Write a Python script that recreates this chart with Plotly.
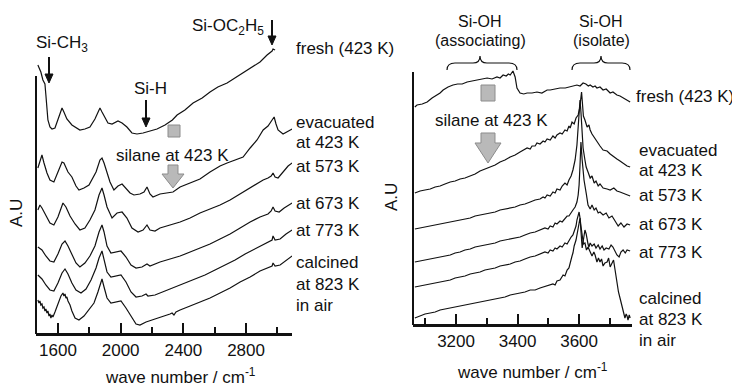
import plotly.graph_objects as go

# ---------------- data: left panel (wavenumber / cm-1, absorbance A.U.) ----------------
left_fresh_wn = [1472,1491,1504,1517,1523,1530,1536,1549,1562,1581,1600,1626,1638,1657,1689,1715,1740,1772,1804,1836,
                 1868,1881,1900,1919,1945,1983,2009,2040,2072,2104,2143,2187,2232,2283,2330,2360,2410,2462,2520,2570,
                 2620,2679,2730,2781,2845,2889,2934,2966,2972,2985]
left_fresh_h = [268,261,253,249,238,226,213,206,204,205,213,225,221,214,208,205,203,204,206,214,
                225,221,215,210,209,212,210,206,200,199,200,202,204,208,213,218,223,230,235,241,
                246,250,255,260,266,271,278,282,284,283]

left_evac_wn = [1472,1485,1498,1511,1530,1549,1574,1600,1626,1638,1664,1689,1715,1734,1766,1798,1823,1843,1868,1881,
                1894,1913,1932,1957,1983,2009,2034,2060,2085,2123,2149,2168,2187,2206,2251,2334,2379,2443,2506,2570,
                2634,2679,2730,2781,2826,2870,2909,2940,2966,2979,2991,3004,3036,3062,3094]
left_evac_h = [165,173,178,170,160,153,151,161,171,170,161,156,147,143,145,148,155,161,173,175,
               170,160,151,143,147,149,145,140,138,139,141,146,139,136,139,141,146,150,154,161,
               167,170,173,176,185,193,203,207,213,216,209,203,199,201,204]

left_573_wn = [1472,1485,1498,1523,1549,1574,1600,1632,1651,1677,1709,1740,1772,1804,1836,1862,1881,1894,1913,1945,
               1977,2009,2040,2072,2111,2143,2168,2187,2219,2251,2315,2379,2443,2506,2570,2634,2698,2762,2826,2870,
               2909,2940,2960,2972,2985,3004,3036,3068,3094]
left_573_h = [123,128,125,117,110,108,116,130,126,117,109,103,105,113,123,138,145,138,126,115,
              120,121,115,105,101,103,108,103,102,105,108,111,115,120,124,128,133,139,145,149,
              153,155,157,160,156,155,161,167,170]

left_673_wn = [1472,1498,1523,1549,1574,1600,1626,1645,1664,1689,1715,1740,1772,1804,1836,1862,1881,1894,1913,1938,
               1970,2002,2034,2066,2098,2136,2168,2187,2251,2315,2379,2443,2506,2570,2634,2698,2762,2826,2889,2940,
               2960,2972,2985,3011,3043,3094]
left_673_h = [86,83,77,72,71,79,89,92,87,78,70,66,70,77,87,101,108,101,87,80,
              81,82,76,68,65,66,69,67,71,74,77,81,85,89,94,99,105,111,116,119,
              122,126,122,121,125,130]

left_773_wn = [1472,1498,1523,1549,1574,1600,1626,1645,1664,1689,1715,1747,1779,1811,1843,1862,1881,1894,1913,1938,
               1970,2002,2034,2066,2098,2136,2162,2174,2219,2283,2347,2411,2475,2538,2602,2666,2730,2794,2858,2909,
               2947,2966,2972,2985,3017,3055,3094]
left_773_h = [58,54,48,43,42,50,60,64,59,50,43,40,44,53,65,75,82,74,61,56,
              57,58,51,41,36,37,39,37,38,42,46,50,54,58,63,68,73,79,84,88,
              91,93,97,93,94,99,103]

left_calc_wn = [1472,1479,1485,1491,1498,1504,1511,1517,1523,1530,1536,1543,1549,1555,1562,1568,1581,1594,1606,1619,
                1632,1638,1645,1651,1657,1664,1677,1689,1709,1734,1766,1798,1830,1855,1881,1894,1913,1938,1970,2002,
                2034,2066,2098,2123,2162,2219,2283,2315,2328,2340,2353,2379,2443,2506,2570,2634,2698,2762,2826,2889,
                2940,2966,2972,2985,3017,3055,3094]
left_calc_h = [33,30,32,28,29,25,26,22,24,20,22,17,19,15,18,16,21,27,33,37,
               40,37,39,35,36,32,28,22,15,13,17,23,30,41,54,46,35,30,31,32,
               25,17,9,8,11,14,17,19,20,18,21,23,27,31,35,40,45,51,56,62,
               65,67,70,67,68,72,77]

# ---------------- data: right panel ----------------
right_fresh_wn = [3066,3073,3090,3106,3122,3138,3148,3158,3174,3190,3205,3220,3236,3252,3268,3285,3301,3317,3333,3343,
                  3353,3363,3370,3376,3380,3385,3392,3398,3408,3420,3431,3447,3463,3479,3496,3506,3522,3538,3555,3571,
                  3583,3593,3603,3613,3622,3630,3636,3645,3652,3658,3668,3678,3688,3701,3710,3723,3733,3743,3752,3766]
right_fresh_h = [217,219,220,222,226,229,231,234,237,239,240,240,242,243,244,245,246,245,247,246,
                 249,248,250,249,251,253,247,236,231,230,231,231,232,231,234,234,235,236,236,237,
                 238,239,238,241,240,238,239,237,238,236,237,234,235,231,232,229,228,226,225,222]

right_evac_wn = [3066,3083,3099,3116,3132,3148,3164,3181,3197,3213,3229,3246,3262,3278,3294,3311,3327,3343,3359,3376,
                 3392,3408,3418,3431,3441,3447,3457,3463,3473,3483,3489,3496,3506,3515,3522,3528,3538,3545,3554,3561,
                 3567,3571,3577,3584,3590,3597,3602,3605,3608,3611,3614,3619,3626,3632,3636,3642,3652,3658,3668,3678,
                 3691,3701,3713,3723,3733,3743,3756,3766]
right_evac_h = [131,133,134,135,137,138,140,142,143,145,146,148,150,153,155,157,159,162,164,167,
                169,172,174,176,175,178,178,181,180,183,182,185,184,188,186,189,191,190,194,193,
                198,196,202,200,206,209,216,229,232,220,208,204,197,199,194,190,185,182,178,174,
                173,170,167,165,163,161,158,157]

right_573_wn = [3066,3083,3099,3116,3132,3148,3164,3181,3197,3213,3229,3246,3262,3278,3294,3311,3327,3343,3359,3376,
                3392,3408,3424,3441,3457,3473,3483,3489,3496,3506,3515,3522,3528,3538,3545,3554,3561,3567,3574,3580,
                3587,3593,3597,3600,3603,3606,3609,3613,3619,3623,3629,3636,3642,3649,3655,3662,3668,3678,3691,3701,
                3713,3723,3733,3743,3756,3766]
right_573_h = [95,96,97,98,99,100,101,102,103,104,105,106,108,109,110,111,112,114,115,116,
               117,119,120,122,124,125,127,126,129,128,132,131,135,134,138,141,139,144,148,154,
               164,179,194,214,224,212,194,176,164,157,152,146,148,141,143,138,140,136,135,134,
               136,133,132,131,129,128]

right_673_wn = [3066,3083,3099,3116,3132,3148,3164,3181,3197,3213,3229,3246,3262,3278,3294,3311,3327,3343,3359,3376,
                3392,3408,3424,3441,3457,3473,3489,3499,3506,3515,3522,3528,3538,3545,3554,3561,3567,3574,3580,3587,
                3593,3597,3600,3603,3606,3610,3616,3623,3629,3636,3642,3649,3655,3662,3668,3678,3688,3697,3707,3717,
                3727,3736,3746,3756,3766]
right_673_h = [62,63,64,65,66,67,68,69,71,72,74,75,77,78,79,80,81,83,84,85,
               86,87,89,91,92,94,96,95,98,97,101,100,103,102,106,108,108,112,114,117,
               122,129,139,159,182,164,144,131,119,115,119,114,116,111,112,109,111,106,108,103,
               98,101,97,100,99]

right_773_wn = [3066,3083,3099,3116,3132,3148,3164,3181,3197,3213,3229,3246,3262,3278,3294,3311,3327,3343,3359,3376,
                3392,3408,3424,3441,3457,3473,3489,3499,3506,3515,3522,3528,3538,3545,3554,3561,3567,3574,3580,3587,
                3590,3593,3597,3600,3603,3606,3610,3613,3616,3619,3623,3626,3629,3632,3636,3642,3649,3655,3662,3668,
                3675,3681,3688,3697,3704,3710,3717,3723,3730,3736,3743,3750,3756,3766]
right_773_h = [37,38,39,40,41,42,43,44,46,47,48,50,51,52,54,55,56,58,59,60,
               62,63,65,67,68,70,72,71,74,73,76,75,78,77,81,80,84,87,89,94,
               98,104,110,112,106,92,76,82,88,94,90,84,80,77,81,78,80,76,79,75,
               78,74,76,75,79,77,72,69,67,72,74,71,74,73]

right_calc_wn = [3066,3083,3099,3116,3132,3148,3164,3181,3197,3213,3229,3246,3262,3278,3294,3311,3327,3343,3359,3376,
                 3392,3408,3424,3441,3457,3473,3483,3496,3506,3515,3522,3528,3538,3548,3554,3561,3567,3571,3577,3580,
                 3584,3590,3597,3600,3603,3606,3610,3614,3619,3624,3629,3635,3642,3648,3652,3658,3663,3668,3673,3678,
                 3684,3691,3696,3701,3707,3712,3717,3723,3728,3733,3740,3746,3749,3753,3756,3759,3763,3766]
right_calc_h = [6,8,10,11,12,14,15,16,17,18,19,20,21,22,23,24,25,26,27,29,
                30,31,32,34,34,36,37,38,39,40,39,43,44,49,48,54,56,62,68,71,
                78,84,96,102,106,98,86,80,81,74,77,72,68,72,69,62,66,62,65,58,
                61,62,66,57,61,64,54,39,32,26,17,11,6,10,8,4,9,6]

left_ticks = [1600, 2000, 2400, 2800]
left_minor = [1800, 2200, 2600, 3000]
right_ticks = [3200, 3400, 3600]
right_minor = [3100, 3300, 3500, 3700]

left_labels = ["fresh (423 K)", "evacuated", "at 423 K", "at 573 K", "at 673 K", "at 773 K", "calcined", "at 823 K", "in air"]
right_labels = left_labels

# ---------------- figure ----------------
# the page body has an 8 px margin, so the figure is 8 px smaller and
# reference pixel positions are shifted by that margin.
OFF = 8
W, H = 740 - OFF, 389 - OFF
FONT = "Liberation Sans, Arial, sans-serif"
INK = "#111111"
FS = 17

def px(x):
    return (x - OFF) / W

def py(y):
    return 1 - (y - OFF) / H

fig = go.Figure()
line_style = dict(color=INK, width=1.2)

left_series = [(left_fresh_wn, left_fresh_h), (left_evac_wn, left_evac_h), (left_573_wn, left_573_h),
               (left_673_wn, left_673_h), (left_773_wn, left_773_h), (left_calc_wn, left_calc_h)]
right_series = [(right_fresh_wn, right_fresh_h), (right_evac_wn, right_evac_h), (right_573_wn, right_573_h),
                (right_673_wn, right_673_h), (right_773_wn, right_773_h), (right_calc_wn, right_calc_h)]

for wn, h in left_series:
    fig.add_trace(go.Scatter(x=wn, y=h, mode="lines", line=line_style, xaxis="x", yaxis="y",
                             hoverinfo="skip", showlegend=False))
for wn, h in right_series:
    fig.add_trace(go.Scatter(x=wn, y=h, mode="lines", line=line_style, xaxis="x2", yaxis="y2",
                             hoverinfo="skip", showlegend=False))

tickfont = dict(family=FONT, size=FS, color=INK)
common_x = dict(showline=True, linecolor=INK, linewidth=2.5, ticks="inside", ticklen=10, tickwidth=2,
                tickcolor=INK, showgrid=False, zeroline=False, tickfont=tickfont, fixedrange=True)

fig.update_layout(
    width=W, height=H, margin=dict(l=0, r=0, t=0, b=0),
    paper_bgcolor="white", plot_bgcolor="rgba(0,0,0,0)",
    xaxis=dict(domain=[px(36), px(292)], range=[1460, 3093], tickvals=left_ticks, anchor="y",
               minor=dict(tickvals=left_minor, ticks="inside", ticklen=6, tickwidth=1.5, tickcolor=INK),
               **common_x),
    yaxis=dict(domain=[py(333), py(40)], range=[0, 293], visible=False, anchor="x"),
    xaxis2=dict(domain=[px(413), px(632)], range=[3060, 3772], tickvals=right_ticks, anchor="y2",
                minor=dict(tickvals=right_minor, ticks="inside", ticklen=6, tickwidth=1.5, tickcolor=INK),
                **common_x),
    yaxis2=dict(domain=[py(324), py(40)], range=[0, 284], visible=False, anchor="x2"),
)

shapes = []
# y axis lines
shapes.append(dict(type="line", xref="paper", yref="paper", x0=px(36), x1=px(36), y0=py(334), y1=py(76),
                   line=dict(color=INK, width=2)))
shapes.append(dict(type="line", xref="paper", yref="paper", x0=px(413), x1=px(413), y0=py(325), y1=py(72),
                   line=dict(color=INK, width=2)))

GRAY_FILL = "#b9b9b9"
GRAY_LINE = "#8c8c8c"

def poly(points):
    return "M " + " L ".join(f"{px(x):.5f},{py(y):.5f}" for x, y in points) + " Z"

# gray markers + big arrows
shapes.append(dict(type="rect", xref="paper", yref="paper", x0=px(168), x1=px(180), y0=py(137), y1=py(125),
                   fillcolor=GRAY_FILL, line=dict(color=GRAY_LINE, width=1)))
shapes.append(dict(type="path", xref="paper", yref="paper",
                   path=poly([(168, 165), (178, 165), (178, 174), (184, 174), (173, 188), (162, 174), (168, 174)]),
                   fillcolor=GRAY_FILL, line=dict(color=GRAY_LINE, width=1)))
shapes.append(dict(type="rect", xref="paper", yref="paper", x0=px(481), x1=px(495), y0=py(101), y1=py(85),
                   fillcolor=GRAY_FILL, line=dict(color=GRAY_LINE, width=1)))
shapes.append(dict(type="path", xref="paper", yref="paper",
                   path=poly([(481, 133), (495, 133), (495, 143), (501, 143), (488, 163), (475, 143), (481, 143)]),
                   fillcolor=GRAY_FILL, line=dict(color=GRAY_LINE, width=1)))

# black marker arrows (Si-CH3, Si-H, Si-OC2H5)
for (x, ytop, ytip) in [(49, 57, 83), (146, 100, 127), (272, 20, 45)]:
    shapes.append(dict(type="line", xref="paper", yref="paper", x0=px(x), x1=px(x), y0=py(ytop), y1=py(ytip - 8),
                       line=dict(color=INK, width=2)))
    shapes.append(dict(type="path", xref="paper", yref="paper",
                       path=poly([(x - 4, ytip - 9), (x + 4, ytip - 9), (x, ytip)]),
                       fillcolor=INK, line=dict(color=INK, width=1)))

def brace(x1, x2, xc, y_end=70, y_mid=63, y_tip=56):
    P = lambda x, y: f"{px(x):.5f},{py(y):.5f}"
    return ("M " + P(x1, y_end) + " Q " + P(x1, y_mid) + " " + P(x1 + 8, y_mid) +
            " L " + P(xc - 7, y_mid) + " Q " + P(xc, y_mid) + " " + P(xc, y_tip) +
            " Q " + P(xc, y_mid) + " " + P(xc + 7, y_mid) +
            " L " + P(x2 - 8, y_mid) + " Q " + P(x2, y_mid) + " " + P(x2, y_end))

shapes.append(dict(type="path", xref="paper", yref="paper", path=brace(447, 517, 480),
                   line=dict(color=INK, width=1.2)))
shapes.append(dict(type="path", xref="paper", yref="paper", path=brace(572, 630, 601),
                   line=dict(color=INK, width=1.2)))

fig.update_layout(shapes=shapes)

ann = []

def lab(text, x, y, xanchor="left", size=FS, angle=0):
    return dict(text=text, x=px(x), y=py(y), xref="paper", yref="paper", xanchor=xanchor, yanchor="middle",
                showarrow=False, textangle=angle, borderpad=0, font=dict(family=FONT, size=size, color=INK))

left_label_y = [48, 122, 142, 167, 203, 230, 262, 284, 305]
for t, y in zip(left_labels, left_label_y):
    ann.append(lab(t, 295, y))
right_label_pos = [(635, 97), (638, 150), (638, 170), (638, 196), (638, 225), (638, 252), (638, 298), (638, 319), (638, 340)]
for t, (x, y) in zip(right_labels, right_label_pos):
    ann.append(lab(t, x, y))

ann.append(lab("Si-CH<sub>3</sub>", 35, 44))
ann.append(lab("Si-H", 150, 88, xanchor="center"))
ann.append(lab("Si-OC<sub>2</sub>H<sub>5</sub>", 228, 27, xanchor="center"))
ann.append(lab("Si-OH", 480, 21, xanchor="center", size=16))
ann.append(lab("(associating)", 480, 41, xanchor="center", size=16))
ann.append(lab("Si-OH", 601, 21, xanchor="center", size=16))
ann.append(lab("(isolate)", 601, 41, xanchor="center", size=16))
ann.append(lab("silane at 423 K", 172, 155, xanchor="center"))
ann.append(lab("silane at 423 K", 492, 120, xanchor="center"))
ann.append(lab("wave number / cm<sup>-1</sup>", 180, 376, xanchor="center"))
ann.append(lab("wave number / cm<sup>-1</sup>", 532, 371, xanchor="center"))
ann.append(lab("A.U", 16, 213, xanchor="center", angle=-90))
ann.append(lab("A.U", 391, 197, xanchor="center", angle=-90))

fig.update_layout(annotations=ann)

fig.write_html("out.html")
